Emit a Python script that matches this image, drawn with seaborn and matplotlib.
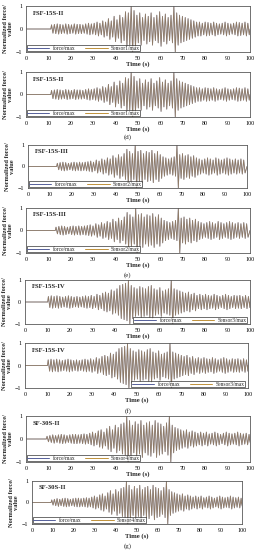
import numpy as np
import pandas as pd
import matplotlib
matplotlib.use("Agg")
import matplotlib.pyplot as plt
import seaborn as sns
from matplotlib.lines import Line2D

# ---- data: amplitude of each oscillation cycle ----
PERIOD = 1.27  # s, one cycle

start_d = 11.4
amp_d = [0.18, 0.2, 0.22, 0.2, 0.18, 0.22, 0.2, 0.18, 0.22, 0.2,
         0.2, 0.18, 0.22, 0.25, 0.22, 0.25, 0.3, 0.25, 0.35, 0.3,
         0.45, 0.35, 0.55, 0.4, 0.6, 0.5, 0.75, 0.7, 1.0,
         0.8, 0.6, 0.7, 0.5, 0.65, 0.55, 0.7, 0.5, 0.6, 0.75, 0.55, 0.65, 0.5, 0.6, 1.0,
         0.7, 0.6, 0.55, 0.5, 0.45, 0.4, 0.35, 0.3, 0.3, 0.25, 0.3, 0.28, 0.25,
         0.3, 0.25, 0.22, 0.25, 0.3, 0.25, 0.22, 0.25, 0.3, 0.28, 0.25, 0.3, 0.25]

start_e = 13.4
amp_e = [0.15, 0.18, 0.2, 0.18, 0.15, 0.18, 0.2, 0.18, 0.2, 0.18,
         0.2, 0.22, 0.25, 0.2, 0.3, 0.25, 0.35, 0.3, 0.4, 0.35,
         0.5, 0.4, 0.55, 0.45, 0.6, 0.8, 0.7, 0.6, 1.0,
         0.7, 0.75, 0.6, 0.7, 0.65, 0.75, 0.6, 0.7, 0.55, 0.45, 0.4, 0.35, 0.4, 0.45, 1.0,
         0.55, 0.6, 0.5, 0.55, 0.45, 0.5, 0.4, 0.35, 0.3, 0.35, 0.4, 0.35,
         0.3, 0.4, 0.35, 0.3, 0.35, 0.4, 0.35, 0.3, 0.35, 0.3, 0.35, 0.3]

start_f = 10.4
amp_f = [0.25, 0.28, 0.25, 0.28, 0.25, 0.22, 0.25, 0.28, 0.25, 0.22,
         0.25, 0.22, 0.25, 0.28, 0.25, 0.3, 0.25, 0.35, 0.3, 0.4,
         0.45, 0.4, 0.55, 0.5, 0.6, 0.75, 0.8, 0.85, 1.0,
         0.75, 0.65, 0.6, 0.7, 0.65, 0.6, 0.7, 0.75, 0.6, 0.55, 0.65, 0.5, 0.55, 0.6, 1.0,
         0.6, 0.55, 0.5, 0.45, 0.4, 0.45, 0.35, 0.4, 0.3, 0.35, 0.3, 0.35, 0.3, 0.28,
         0.35, 0.3, 0.25, 0.3, 0.35, 0.3, 0.25, 0.3, 0.28, 0.3, 0.25, 0.3, 0.25]

start_g = 9.4
amp_g = [0.12, 0.15, 0.18, 0.15, 0.18, 0.2, 0.18, 0.15, 0.18, 0.2,
         0.2, 0.18, 0.2, 0.22, 0.2, 0.25, 0.3, 0.25, 0.35, 0.4,
         0.3, 0.45, 0.55, 0.4, 0.6, 0.5, 0.65, 0.7, 1.0,
         0.8, 0.6, 0.75, 0.65, 0.8, 0.6, 0.7, 0.75, 0.6, 0.8, 0.7, 0.65, 0.55, 0.7, 1.0,
         0.6, 0.5, 0.45, 0.4, 0.35, 0.4, 0.3, 0.35, 0.3, 0.25, 0.3, 0.25, 0.3, 0.22,
         0.25, 0.3, 0.25, 0.2, 0.25, 0.3, 0.25, 0.22, 0.25, 0.3, 0.25, 0.22, 0.25, 0.2]

panel_names = ["FSF-15S-II", "FSF-15S-II", "FSF-15S-III", "FSF-15S-III",
               "FSF-15S-IV", "FSF-15S-IV", "SF-30S-II", "SF-30S-II"]
sensor_names = ["Sensor1/max", "Sensor1/max", "Sensor2/max", "Sensor2/max",
                "Sensor3/max", "Sensor3/max", "Sensor4/max", "Sensor4/max"]
sub_labels = ["(d)", "(e)", "(f)", "(g)"]
x_ticks = list(range(0, 101, 10))
y_ticks = [-1, 0, 1]


def make_series(start, amps):
    # zero line until shaking starts, then one peak and one trough per cycle
    t = [0.0, start - PERIOD / 4]
    v = [0.0, 0.0]
    for i, a in enumerate(amps):
        t += [start + i * PERIOD, start + (i + 0.5) * PERIOD]
        v += [a, -a]
    t.append(100.0)
    v.append(0.0)
    return pd.DataFrame({"t": t, "v": v})


datasets = [make_series(start_d, amp_d), make_series(start_e, amp_e),
            make_series(start_f, amp_f), make_series(start_g, amp_g)]

# ---- layout (pixels in a 256x550 image) ----
W, H = 256, 550
boxes = [(26, 250, 6, 52), (26, 250, 72, 117), (28, 247, 145, 188), (26, 250, 208, 253),
         (25, 250, 280, 324), (25, 248, 343, 388), (26, 250, 416, 462), (32, 242, 481, 524)]
sub_y = [137, 275, 411, 546]

c_force = "#55609A"
c_sensor = "#C0913A"
serif = ["Liberation Serif", "DejaVu Serif"]

sns.set_style("white")
plt.rcParams["font.family"] = serif

fig = plt.figure(figsize=(W / 100, H / 100), dpi=100)

for k in range(8):
    x0, x1, y0, y1 = boxes[k]
    ax = fig.add_axes([x0 / W, 1 - y1 / H, (x1 - x0) / W, (y1 - y0) / H])
    df = datasets[k // 2]
    sns.lineplot(data=df, x="t", y="v", ax=ax, color=c_force, lw=0.6,
                 sort=False, estimator=None)
    sns.lineplot(data=df, x="t", y="v", ax=ax, color=c_sensor, lw=0.6,
                 alpha=0.55, sort=False, estimator=None)
    ax.set_xlim(0, 100)
    ax.set_ylim(-1, 1)
    ax.set_xticks(x_ticks)
    ax.set_yticks(y_ticks)
    ax.tick_params(labelsize=4.3, length=1.2, width=0.4, pad=1.5, colors="black")
    for s in ax.spines.values():
        s.set_linewidth(0.6)
        s.set_color("#5a5a5a")
    ax.set_xlabel("Time (s)", fontsize=4.8, fontweight="bold", labelpad=0.3)
    ax.set_ylabel("Normalized force/\nvalue", fontsize=4.6, fontweight="bold",
                  labelpad=2, linespacing=1.0)
    ax.text(0.03, 0.9, panel_names[k], transform=ax.transAxes, fontsize=4.8,
            fontweight="bold", va="top", ha="left")

    handles = [Line2D([], [], color=c_force, lw=0.7),
               Line2D([], [], color=c_sensor, lw=0.7)]
    if k in (4, 5):
        loc, anchor = "lower right", (0.99, 0.0)
    else:
        loc, anchor = "lower left", (0.0, 0.0)
    leg = ax.legend(handles, ["force/max", sensor_names[k]], ncol=2, loc=loc,
                    bbox_to_anchor=anchor, fontsize=4.0, frameon=True,
                    handlelength=4.0, columnspacing=1.8, borderpad=0.1,
                    handletextpad=0.6, borderaxespad=0.1)
    leg.get_frame().set_edgecolor("black")
    leg.get_frame().set_linewidth(0.5)
    leg.get_frame().set_boxstyle("square", pad=0)

for lab, y in zip(sub_labels, sub_y):
    fig.text(0.5, 1 - y / H, lab, ha="center", va="center", fontsize=5)

fig.savefig("out.png", dpi=100)
